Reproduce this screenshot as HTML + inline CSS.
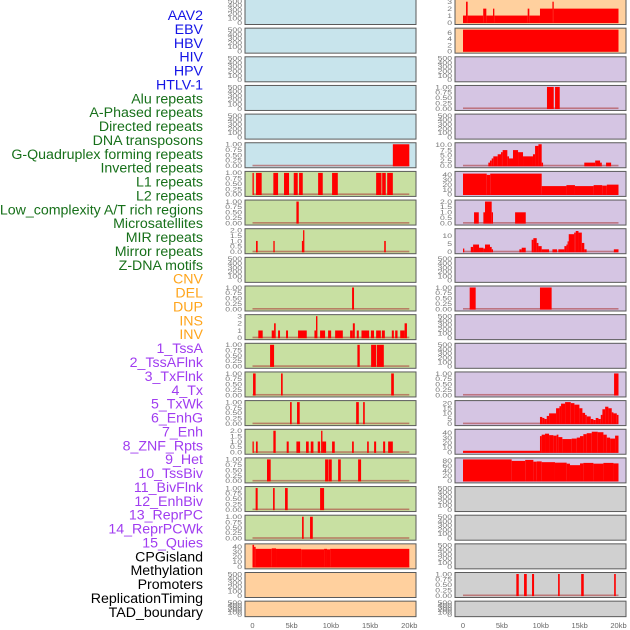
<!DOCTYPE html>
<html><head><meta charset="utf-8">
<style>
html,body{margin:0;padding:0;background:#fff;width:630px;height:630px;overflow:hidden}
svg{display:block;font-family:"Liberation Sans",sans-serif}
</style></head>
<body>
<svg id="chart" width="630" height="630" viewBox="0 0 630 630"></svg>
<script>
// ---------- labels ----------
const trackLabels = ["AAV2","EBV","HBV","HIV","HPV","HTLV-1","Alu repeats","A-Phased repeats","Directed repeats","DNA transposons","G-Quadruplex forming repeats","Inverted repeats","L1 repeats","L2 repeats","Low_complexity A/T rich regions","Microsatellites","MIR repeats","Mirror repeats","Z-DNA motifs","CNV","DEL","DUP","INS","INV","1_TssA","2_TssAFlnk","3_TxFlnk","4_Tx","5_TxWk","6_EnhG","7_Enh","8_ZNF_Rpts","9_Het","10_TssBiv","11_BivFlnk","12_EnhBiv","13_ReprPC","14_ReprPCWk","15_Quies","CPGisland","Methylation","Promoters","ReplicationTiming","TAD_boundary"];
const labelGroups = [6,13,5,15,5];
const groupColors = ["#1414e6","#17701a","#ffa51c","#a03cf0","#000000"];

// ---------- tick arrays ----------
const ticksEmpty = [0,100,200,300,400,500];
const labelsEmpty = ["0","100","200","300","400","500"];
const ticksUnit = [0,0.25,0.5,0.75,1];
const labelsUnit = ["0.00","0.25","0.50","0.75","1.00"];
const ticks2 = [0,0.5,1,1.5,2];
const labels2 = ["0.0","0.5","1.0","1.5","2.0"];
const ticks3 = [0,1,2,3];
const labels3 = ["0","1","2","3"];
const ticks6 = [0,2,4,6];
const labels6 = ["0","2","4","6"];
const ticks10 = [0,2.5,5,7.5,10];
const labels10 = ["0.0","2.5","5.0","7.5","10.0"];
const ticks40 = [0,10,20,30,40];
const labels40 = ["0","10","20","30","40"];
const ticks13 = [0,5,10];
const labels13 = ["0","5","10"];
const ticks20 = [0,5,10,15,20];
const labels20 = ["0","5","10","15","20"];
const ticks80 = [0,20,40,60,80];
const labels80 = ["0","20","40","60","80"];
const xTicks = [0,5,10,15,20];
const xTickLabels = ["0","5kb","10kb","15kb","20kb"];

// ---------- data: [startKb, endKb, value] ----------
const leftG4 = [[17.9,20.0,1]];
const leftL1 = [[0,0.15,1],[0.45,1.17,1],[2.66,3.26,1],[4.02,4.66,1],[5.26,5.77,1],[5.94,6.41,1],[8.37,8.96,1],[10.15,10.88,1],[15.77,16.45,1],[16.54,17.0,1],[17.18,17.9,1]];
const leftLowComplex = [[5.6,5.9,1]];
const leftMIR = [[0.45,0.66,1],[2.66,2.83,1],[6.3,6.45,1],[6.45,6.55,2],[16.8,17.0,1]];
const leftRow10 = [[12.7,12.95,1]];
const leftRow11 = [[0.74,1.3,1],[2.45,2.75,1],[2.75,2.96,2],[3.26,3.51,1],[4.28,4.53,1],[5.81,6.92,1],[7.9,8.1,1],[8.1,8.28,3],[8.62,9.26,1],[9.64,10.03,1],[10.54,11.52,1],[12.45,12.8,1],[12.8,13.05,2],[13.3,13.56,1],[13.9,14.88,1],[15.1,15.5,1],[15.77,16.37,1],[16.5,16.88,1],[17.77,18.03,1],[18.2,18.5,1],[18.84,19.4,1],[19.4,19.7,2]];
const leftRow12 = [[2.24,2.75,1],[13.38,13.68,1],[15.13,15.77,1],[15.86,16.75,1]];
const leftRow13 = [[0.07,0.4,1],[3.64,3.85,1],[17.69,18.03,1]];
const leftRow14 = [[4.79,5.0,1],[5.68,6.02,1],[13.22,13.56,1],[14.11,14.32,1]];
const leftRow15 = [[0,0.15,1],[0.45,0.66,1],[2.66,2.96,2],[4.36,4.62,1],[5.6,6.07,1],[6.83,7.17,1],[7.43,7.77,1],[8.32,8.62,1],[8.75,8.92,2],[8.92,9.39,1],[10.15,10.49,1],[12.7,12.92,1],[14.62,14.83,1],[15.51,15.77,1],[16.66,16.92,1],[17.3,17.9,1]];
const leftRow16 = [[1.85,2.32,1],[9.26,9.64,1],[9.69,10.11,1],[10.92,11.26,1],[13.47,13.85,1]];
const leftRow17 = [[0.4,0.66,1],[2.62,2.83,1],[4.15,4.49,1],[8.62,9.13,1]];
const leftRow18 = [[6.32,6.53,1],[7.34,7.69,1]];
const leftCpG = [[0,0.2,44],[0.2,0.4,40],[0.4,2.45,36],[2.45,3.0,37],[3.0,6.2,36],[6.2,9.13,35],[9.13,9.5,36],[9.5,9.9,35],[9.9,20.0,36]];

const rightAAV2 = [[0,0.39,1],[0.39,0.6,3],[0.6,2.6,1],[2.6,3.0,2],[3.0,3.86,1],[3.86,4.03,2],[4.03,8.32,1],[8.32,8.53,2],[8.53,9.9,1],[9.9,11.5,2],[11.5,11.67,3],[11.67,20.0,2]];
const rightHBV = [[0,20.0,7]];
const rightRow3 = [[10.8,11.67,1],[11.84,12.44,1]];
const rightG4 = [[3.26,3.47,1.5],[3.47,3.69,2.5],[3.69,3.9,3.5],[3.9,4.46,4.5],[4.46,4.89,5.5],[4.89,5.1,6.5],[5.1,5.7,7.5],[5.7,5.92,4.5],[5.92,6.43,3.5],[6.43,7.08,7.5],[7.08,7.72,6.5],[7.72,9.0,4.5],[9.0,9.27,5.5],[9.27,9.7,9.5],[9.7,10.12,10.3],[10.12,10.3,1.5],[15.6,17.0,1.5],[17.0,17.63,2.5],[17.63,17.85,1.5],[18.4,19.05,1.5]];
const rightL1 = [[0,3.05,42.5],[3.05,3.5,40],[3.5,10.12,42.5],[10.12,13.3,17],[13.3,14.4,19],[14.4,16.8,17],[16.8,17.9,19],[17.9,18.5,18],[18.5,20.0,20]];
const rightRow7 = [[1.42,2.03,1],[2.62,2.83,1],[2.83,3.69,2],[3.69,3.86,1],[6.7,8.07,1]];
const rightRow8 = [[0,0.1,2],[1.0,1.3,3],[1.3,2.06,4.5],[2.06,2.62,2.5],[2.62,2.83,2],[2.83,3.47,4.5],[3.47,3.69,3],[3.69,3.86,1.5],[7.25,7.55,1.5],[7.55,8.07,2.5],[8.83,9.05,7.5],[9.05,9.48,8.5],[9.48,9.7,5.5],[9.7,10.12,3.5],[10.12,11.07,1.5],[11.5,12.1,1.5],[12.26,13.04,1.5],[13.04,13.3,3.5],[13.3,13.45,4.5],[13.45,13.6,6.5],[13.6,14.3,11],[14.3,14.5,12],[14.5,14.85,13],[14.85,15.28,12],[15.28,15.6,5.5],[15.6,15.9,1.5],[19.4,20.0,1.5]];
const rightRow10 = [[0.86,1.63,1],[9.9,11.4,1]];
const rightRow13 = [[19.43,20.0,1]];
const rightRow14 = [[9.9,10.2,6.5],[10.2,10.47,5.5],[10.47,10.77,4.5],[10.77,11.07,7.5],[11.07,11.97,10],[11.97,12.4,15],[12.4,12.61,17],[12.61,13.13,19.5],[13.13,13.86,21],[13.86,14.33,20],[14.33,14.97,18.5],[14.97,15.36,15],[15.36,15.7,10.5],[15.7,15.91,8.5],[15.91,16.43,7],[16.43,16.77,4.5],[16.77,17.07,3.5],[17.07,17.42,5.5],[17.42,17.72,4.5],[17.72,17.93,8.5],[17.93,18.28,14],[18.28,18.7,16.5],[18.7,19.13,15],[19.13,19.35,11],[19.35,19.78,10],[19.78,20.0,8.5]];
const rightRow15 = [[0,9.9,3],[9.9,10.12,33],[10.12,10.55,36],[10.55,11.07,38],[11.07,11.62,35],[11.62,12.05,34],[12.05,12.27,36],[12.27,12.78,31],[12.78,13.98,27],[13.98,14.63,28],[14.63,15.05,30],[15.05,15.48,33],[15.48,15.91,37],[15.91,16.56,39],[16.56,17.33,42],[17.33,18.06,41],[18.06,18.49,36],[18.49,18.92,30],[18.92,19.56,28],[19.56,20.0,34]];
const rightRow16 = [[0,6.26,86],[6.26,8.0,80],[8.0,9.05,84],[9.05,9.48,77],[9.48,10.12,78],[10.12,11.83,75],[11.83,13.33,73],[13.33,13.76,69],[13.76,15.05,63],[15.05,15.48,70],[15.48,16.77,72],[16.77,18.06,69],[18.06,19.35,72],[19.35,20.0,70]];
const rightPromoters = [[6.86,7.17,1],[7.85,8.2,1],[8.88,9.14,1],[12.23,12.44,1],[15.2,15.53,1],[19.44,19.65,1]];

// ---------- panel layout (styles) ----------
const BG = {blue:"#c8e4ec",green:"#c8e0a2",purple:"#d5c5e3",orange:"#ffd09e",gray:"#d0d0d0"};
const E = {t:ticksEmpty,l:labelsEmpty,max:500,d:null};
function P(t,l,max,d){return {t:t,l:l,max:max,d:d};}
const leftPanels = [E,E,E,E,E,P(ticksUnit,labelsUnit,1,leftG4),P(ticksUnit,labelsUnit,1,leftL1),P(ticksUnit,labelsUnit,1,leftLowComplex),P(ticks2,labels2,2,leftMIR),E,P(ticksUnit,labelsUnit,1,leftRow10),P(ticks3,labels3,3,leftRow11),P(ticksUnit,labelsUnit,1,leftRow12),P(ticksUnit,labelsUnit,1,leftRow13),P(ticksUnit,labelsUnit,1,leftRow14),P(ticks2,labels2,2,leftRow15),P(ticksUnit,labelsUnit,1,leftRow16),P(ticksUnit,labelsUnit,1,leftRow17),P(ticksUnit,labelsUnit,1,leftRow18),P(ticks40,labels40,43,leftCpG),E,E];
const rightPanels = [P(ticks3,labels3,3.1,rightAAV2),P(ticks6,labels6,7,rightHBV),E,P(ticksUnit,labelsUnit,1,rightRow3),E,P(ticks10,labels10,10.3,rightG4),P(ticks40,labels40,44,rightL1),P(ticks2,labels2,2,rightRow7),P(ticks13,labels13,13.5,rightRow8),E,P(ticksUnit,labelsUnit,1,rightRow10),E,E,P(ticksUnit,labelsUnit,1,rightRow13),P(ticks20,labels20,21,rightRow14),P(ticks40,labels40,44,rightRow15),P(ticks80,labels80,86,rightRow16),E,E,E,P(ticksUnit,labelsUnit,1,rightPromoters),E];

const NS="http://www.w3.org/2000/svg";
const svg=document.getElementById('chart');
function mk(tag,attrs,parent){const e=document.createElementNS(NS,tag);for(const k in attrs)e.setAttribute(k,attrs[k]);(parent||svg).appendChild(e);return e;}

// labels
let li=0;
labelGroups.forEach((n,g)=>{for(let k=0;k<n;k++){
  const t=mk('text',{x:203,y:15+li*13.88+5,'text-anchor':'end','font-size':'14.2',fill:groupColors[g]});
  
  
  t.textContent=trackLabels[li];li++;}});

const cols=[{x0:245,x1:416,d0:252.5,d1:409.3,tx:242,panels:leftPanels,bgs:r=>r<6?BG.blue:(r<19?BG.green:BG.orange),name:'left'},
            {x0:455,x1:626,d0:463,d1:618.5,tx:452,panels:rightPanels,bgs:r=>r<2?BG.orange:(r<17?BG.purple:BG.gray),name:'right'}];

cols.forEach(c=>{
  const xs=kb=>c.d0+(c.d1-c.d0)*kb/20;
  c.panels.forEach((p,r)=>{
    const top=28.65*r-0.5, h=(r===21)?15.5:25;
    const g=mk('g',{});
    
    
    const bg=mk('rect',{x:c.x0,y:top,width:c.x1-c.x0,height:h,fill:c.bgs(r),stroke:'#5a5a5a','stroke-width':1},g);
    
    
    const ys=v=>top+1.5+(h-3.5)*(1-v/p.max);
    p.t.forEach((tv,i)=>{
      const t=mk('text',{x:0,y:0,transform:'translate('+c.tx+','+(ys(tv)+2.3)+') scale(1.35,1)','text-anchor':'end','font-size':'6.4',fill:'#777'},g);
      
      
      t.textContent=p.l[i];
    });
    if(p.d){
      const bl=mk('rect',{x:xs(0),y:ys(0)-1,width:xs(20)-xs(0),height:1.6,fill:'rgba(170,50,50,0.55)'},g);
      
      
      p.d.forEach(d=>{
        const x1=xs(d[0]),x2=Math.max(xs(d[1]),x1+1.3);
        const b=mk('rect',{x:x1,y:ys(d[2]),width:x2-x1,height:ys(0)-ys(d[2])+0.6,fill:'#ff0000'},g);
        
        
      });
    }
  });
  xTicks.forEach((v,i)=>{
    const t=mk('text',{x:xs(v),y:628,'text-anchor':'middle','font-size':'7.5',fill:'#666'});
    
    
    t.textContent=xTickLabels[i];
  });
});
</script>
</body></html>
